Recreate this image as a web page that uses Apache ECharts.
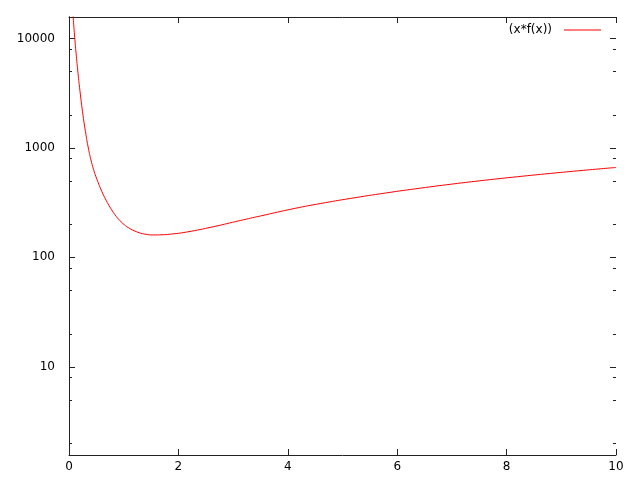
<!DOCTYPE html>
<html>
<head>
<meta charset="utf-8">
<script src="https://cdn.jsdelivr.net/npm/echarts@6/dist/echarts.min.js"></script>
<style>html,body{margin:0;padding:0;background:#fff}#c{width:640px;height:480px}</style>
</head>
<body>
<div id="c"></div>
<script>
var seriesName = "(x*f(x))";
var xValues = [0.07, 0.104, 0.13, 0.159, 0.2, 0.256, 0.31, 0.35, 0.4, 0.45, 0.494, 0.6, 0.68, 0.75, 0.84, 0.932, 1.01, 1.085, 1.237, 1.389, 1.541, 1.7, 1.85, 2.15, 2.64, 3.13, 3.5, 4.13, 4.6, 5.14, 5.8, 6.42, 7.0, 7.6, 8.2, 8.8, 9.4, 10];
var yValues = [17100, 10280, 7270, 5135, 3327, 1986, 1318, 1018, 781, 632, 543, 400, 331, 287, 245, 216, 198.6, 186.6, 171, 162.8, 160, 160.6, 162.6, 170.1, 190.4, 216.8, 238.5, 279.8, 310.1, 344.7, 387.5, 428.1, 466.5, 506, 545, 584, 623, 662];
var xTicks = [0, 2, 4, 6, 8, 10];
var yMajorTicks = [10, 100, 1000, 10000];
var yMinorTicks = [2, 5, 8, 20, 50, 80, 200, 500, 800, 2000, 5000, 8000];
var yMin = 1.56, yMax = 15700;

var lineData = xValues.map(function (x, i) { return [x, yValues[i]]; });
var tickData = yMajorTicks.map(function (v) { return [v, 6]; }).concat(yMinorTicks.map(function (v) { return [v, 3]; }));
var font = { fontFamily: 'DejaVu Sans', fontSize: 12, color: '#000' };
var axisLine = { show: true, lineStyle: { color: '#222', width: 1 } };

var chart = echarts.init(document.getElementById('c'), null, { renderer: 'canvas' });
chart.setOption({
  animation: false,
  backgroundColor: '#fff',
  grid: { left: 69, right: 24, top: 17, bottom: 25, containLabel: false },
  legend: {
    data: [{ name: seriesName, icon: 'rect' }],
    right: 34, top: 19,
    align: 'right',
    itemWidth: 37, itemHeight: 1,
    textStyle: { fontFamily: 'DejaVu Sans', fontSize: 12, color: '#000', padding: [0, 7, 0, 0] }
  },
  xAxis: [{
    type: 'value', min: xTicks[0], max: xTicks[xTicks.length - 1], interval: 2,
    axisLine: axisLine, splitLine: { show: false },
    axisTick: { inside: true, length: 6, lineStyle: { color: '#222' } },
    axisLabel: Object.assign({ margin: 6 }, font)
  }, {
    type: 'value', position: 'top', min: xTicks[0], max: xTicks[xTicks.length - 1], interval: 2,
    axisLine: axisLine, splitLine: { show: false },
    axisTick: { inside: true, length: 6, lineStyle: { color: '#222' } },
    axisLabel: { show: false }
  }],
  yAxis: [{
    type: 'log', logBase: 10, min: yMin, max: yMax,
    axisLine: axisLine, splitLine: { show: false },
    axisTick: { show: false },
    axisLabel: Object.assign({ margin: 14, showMinLabel: false, showMaxLabel: false,
      formatter: function (v) { return yMajorTicks.indexOf(Math.round(v)) >= 0 ? String(Math.round(v)) : ''; } }, font)
  }, {
    type: 'log', logBase: 10, min: yMin, max: yMax, position: 'right',
    axisLine: axisLine, splitLine: { show: false },
    axisTick: { show: false },
    axisLabel: { show: false }
  }],
  series: [{
    name: seriesName,
    type: 'line',
    data: lineData,
    symbol: 'none',
    smooth: 0.5,
    clip: true,
    lineStyle: { color: '#ff0000', width: 1 },
    itemStyle: { color: '#ff0000' }
  }, {
    type: 'custom',
    silent: true,
    data: tickData,
    renderItem: function (params, api) {
      var v = api.value(0);
      var len = api.value(1);
      var l = api.coord([xTicks[0], v]);
      var r = api.coord([xTicks[xTicks.length - 1], v]);
      return {
        type: 'group',
        children: [
          { type: 'line', shape: { x1: l[0], y1: Math.round(l[1]) + 0.5, x2: l[0] + len, y2: Math.round(l[1]) + 0.5 }, style: { stroke: '#222', lineWidth: 1 } },
          { type: 'line', shape: { x1: r[0], y1: Math.round(r[1]) + 0.5, x2: r[0] - len, y2: Math.round(r[1]) + 0.5 }, style: { stroke: '#222', lineWidth: 1 } }
        ]
      };
    },
    encode: { y: 0 }
  }]
});
</script>
</body>
</html>
